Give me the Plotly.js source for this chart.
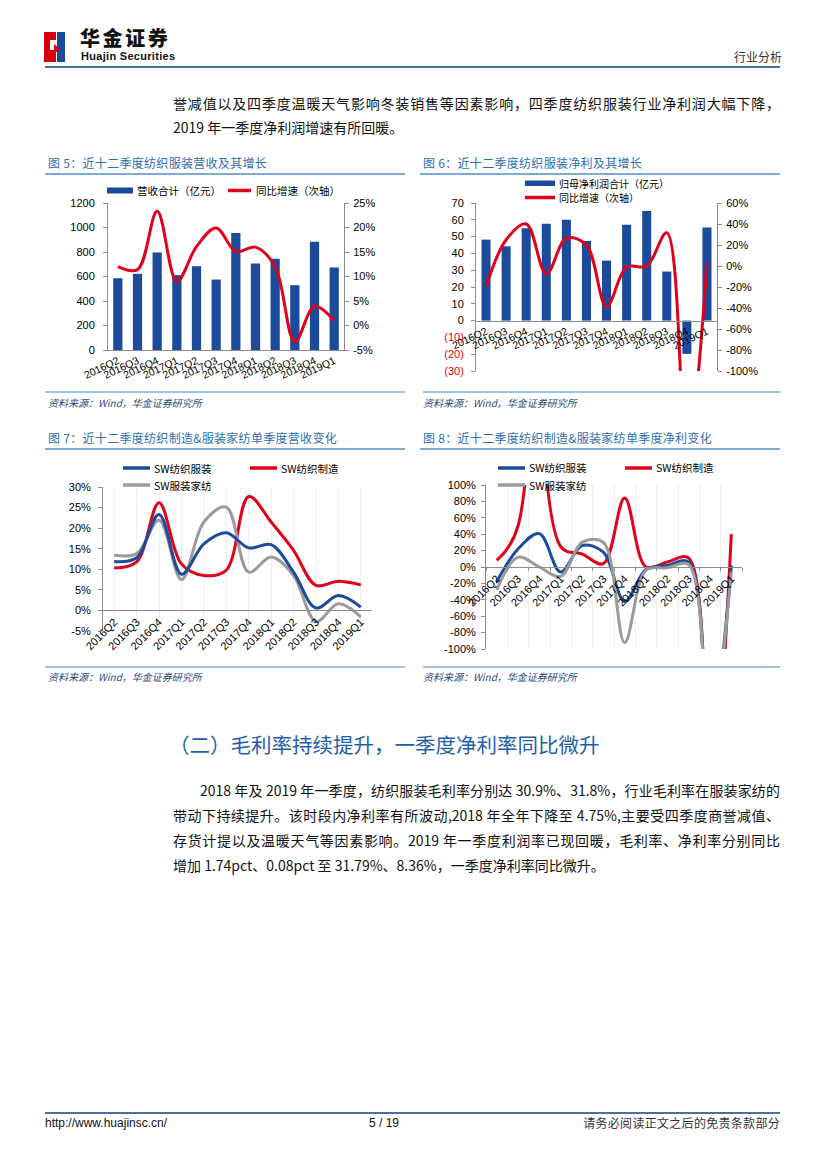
<!DOCTYPE html>
<html lang="zh-CN">
<head>
<meta charset="utf-8">
<title>行业分析 - 纺织服装</title>
<script src="https://cdn.plot.ly/plotly-3.0.1.min.js"></script>
<style>
html,body{margin:0;padding:0;background:#fff;}
#page{position:relative;width:827px;height:1169px;overflow:hidden;background:#fff;font-family:"Noto Sans CJK SC","Noto Sans",sans-serif;color:#111;}
.t{position:absolute;white-space:nowrap;line-height:20px;}
.jl{position:absolute;white-space:nowrap;line-height:20px;text-align:justify;text-align-last:justify;}
.body{font-size:14px;color:#111;}
.ftitle{font-size:12px;color:#2f6fb0;letter-spacing:0.3px;}
.uline{position:absolute;height:2px;background:#7eaad8;}
.srcline{position:absolute;height:1.5px;background:#9cc2e6;}
.src{font-size:10px;font-style:italic;color:#2b4a78;}
.chart{position:absolute;}
</style>
</head>
<body>
<div id="page">
  <!-- header -->
  <div style="position:absolute;left:44px;top:32px;width:12px;height:30px;background:#d7000f;"></div>
  <div style="position:absolute;left:50px;top:40px;width:6px;height:10px;background:#fff;"></div>
  <div style="position:absolute;left:57px;top:32px;width:8px;height:30px;background:#1b4a9a;"></div>
  <div style="position:absolute;left:54px;top:44px;width:0;height:0;border-top:5px solid transparent;border-bottom:5px solid transparent;border-left:6px solid #d7000f;"></div>
  <div class="t" style="left:80px;top:27px;font-size:20px;font-weight:900;letter-spacing:2.6px;color:#111;line-height:21px;">华金证券</div>
  <div class="t" style="left:81px;top:50px;font-size:11px;font-weight:bold;font-family:'Liberation Sans Narrow','Liberation Sans',Arial,sans-serif;color:#111;letter-spacing:0.3px;line-height:12px;">Huajin Securities</div>
  <div class="t" style="left:734px;top:47px;font-size:12px;color:#333;">行业分析</div>
  <div style="position:absolute;left:45px;top:66px;width:735px;height:2px;background:#44739f;"></div>

  <!-- top paragraph -->
  <div class="jl body" style="left:173px;top:93px;width:607px;">誉减值以及四季度温暖天气影响冬装销售等因素影响，四季度纺织服装行业净利润大幅下降，</div>
  <div class="t body" style="left:173px;top:117px;">2019 年一季度净利润增速有所回暖。</div>

  <!-- figure titles row 1 -->
  <div class="t ftitle" style="left:48px;top:153px;">图 5：近十二季度纺织服装营收及其增长</div>
  <div class="uline" style="left:45px;top:173px;width:360px;"></div>
  <div class="t ftitle" style="left:423px;top:153px;">图 6：近十二季度纺织服装净利及其增长</div>
  <div class="uline" style="left:420px;top:173px;width:360px;"></div>

  <div id="c5" class="chart"></div>
  <div id="c6" class="chart"></div>

  <div class="srcline" style="left:45px;top:391px;width:360px;"></div>
  <div class="srcline" style="left:423px;top:391px;width:357px;"></div>
  <div class="t src" style="left:48px;top:393px;">资料来源：Wind，华金证券研究所</div>
  <div class="t src" style="left:423px;top:393px;">资料来源：Wind，华金证券研究所</div>

  <!-- figure titles row 2 -->
  <div class="t ftitle" style="left:48px;top:428px;">图 7：近十二季度纺织制造&amp;服装家纺单季度营收变化</div>
  <div class="uline" style="left:45px;top:448px;width:360px;"></div>
  <div class="t ftitle" style="left:423px;top:428px;">图 8：近十二季度纺织制造&amp;服装家纺单季度净利变化</div>
  <div class="uline" style="left:420px;top:448px;width:360px;"></div>

  <div id="c7" class="chart"></div>
  <div id="c8" class="chart"></div>

  <div class="srcline" style="left:45px;top:666px;width:360px;"></div>
  <div class="srcline" style="left:423px;top:666px;width:357px;"></div>
  <div class="t src" style="left:48px;top:667px;">资料来源：Wind，华金证券研究所</div>
  <div class="t src" style="left:423px;top:667px;">资料来源：Wind，华金证券研究所</div>

  <!-- section heading -->
  <div class="t" style="left:169px;top:731px;font-size:20.5px;line-height:27px;color:#1f5ea8;">（二）毛利率持续提升，一季度净利率同比微升</div>

  <!-- paragraph -->
  <div class="jl body" style="left:200px;top:780px;width:580px;">2018 年及 2019 年一季度，纺织服装毛利率分别达 30.9%、31.8%，行业毛利率在服装家纺的</div>
  <div class="jl body" style="left:173px;top:805px;width:607px;">带动下持续提升。该时段内净利率有所波动,2018 年全年下降至 4.75%,主要受四季度商誉减值、</div>
  <div class="jl body" style="left:173px;top:830px;width:607px;">存货计提以及温暖天气等因素影响。2019 年一季度利润率已现回暖，毛利率、净利率分别同比</div>
  <div class="t body" style="left:173px;top:855px;">增加 1.74pct、0.08pct 至 31.79%、8.36%，一季度净利率同比微升。</div>

  <!-- footer -->
  <div style="position:absolute;left:45px;top:1112px;width:735px;height:2px;background:#44739f;"></div>
  <div class="t" style="left:45px;top:1113px;font-size:12px;font-family:'Liberation Sans',Arial,sans-serif;color:#111;">http://www.huajinsc.cn/</div>
  <div class="t" style="left:369px;top:1113px;font-size:12px;font-family:'Liberation Sans',Arial,sans-serif;color:#111;">5 / 19</div>
  <div class="t" style="right:47px;top:1113px;font-size:12px;color:#333;letter-spacing:0.3px;">请务必阅读正文之后的免责条款部分</div>
</div>

<script>
// ---------------- data ----------------
const quarters = ['2016Q2','2016Q3','2016Q4','2017Q1','2017Q2','2017Q3','2017Q4','2018Q1','2018Q2','2018Q3','2018Q4','2019Q1'];

// Fig 5: revenue (亿元) and YoY growth (%)
const revenueTotal = [586, 622, 796, 611, 684, 575, 955, 706, 745, 529, 884, 674];
const revenueYoY   = [12.0, 11.4, 23.3, 9.0, 16.1, 19.9, 15.1, 16.0, 12.0, -3.3, 3.9, 1.0];
const revLeftTicks  = [0, 200, 400, 600, 800, 1000, 1200];
const revRightTicks = [-5, 0, 5, 10, 15, 20, 25];

// Fig 6: net profit attributable (亿元) and YoY growth (%)
const netProfitTotal = [48.2, 44.2, 55.0, 57.7, 60.1, 47.4, 35.7, 57.1, 65.3, 29.2, -19.8, 55.4];
const netProfitYoY   = [-19.5, 25, 40, -7.5, 26.5, 20, -38.6, -1, 0, 31.6, -180, 2.7];
const npLeftTicks  = [-30, -20, -10, 0, 10, 20, 30, 40, 50, 60, 70];
const npRightTicks = [-100, -80, -60, -40, -20, 0, 20, 40, 60];

// Fig 7: single-quarter revenue growth (%)
const revTextileApparel = [11.9, 12.8, 23.3, 8.8, 16.2, 18.9, 15.2, 16.0, 9.3, 0.6, 3.6, 0.8];
const revTextileMfg     = [10.3, 11.8, 26.2, 11.3, 8.5, 9.8, 27.7, 21.5, 14.6, 6.1, 7.1, 6.2];
const revApparelHome    = [13.4, 13.8, 21.9, 7.5, 21.5, 25.1, 9.3, 13.0, 8.5, -2.7, 1.6, -1.6];
const rev7Ticks = [-5, 0, 5, 10, 15, 20, 25, 30];

// Fig 8: single-quarter net profit growth (%)
const npTextileApparel = [-18, 22, 40.7, -6, 26, 18, -42, -3, 2, 6, -200, 2];
const npTextileMfg     = [8, 50, 2000, 25, 16, 4, 84, 0, 6, 11, -300, 40];
const npApparelHome    = [-28, 12, 0, -11.4, 30, 30, -92, -4, -1, 3, -200, -6];
const np8Ticks = [-100, -80, -60, -40, -20, 0, 20, 40, 60, 80, 100];

const legend5 = ['营收合计（亿元）', '同比增速（次轴）'];
const legend6 = ['归母净利润合计（亿元）', '同比增速（次轴）'];
const swNames = ['SW纺织服装', 'SW纺织制造', 'SW服装家纺'];

// ---------------- styles ----------------
const BAR = '#1c4b9b', RED = '#e0001b', BLUE = '#1c4b9b', GRAY = '#9b9b9b', AX = '#8c8c8c';
const NUMF = 'Liberation Sans, Arial, sans-serif';
const CJKF = 'Noto Sans CJK SC, Liberation Sans, sans-serif';
const tickF = {family: NUMF, size: 11, color: '#000'};
const cfg = {staticPlot: true, displayModeBar: false, responsive: false};

function place(id, left, top, W, H, L, T, R, B) {
  const el = document.getElementById(id);
  el.style.left = left + 'px'; el.style.top = top + 'px';
  el.style.width = W + 'px'; el.style.height = H + 'px';
  const pw = W - L - R, ph = H - T - B;
  return {
    W: W, H: H,
    margin: {l: L, r: R, t: T, b: B, pad: 0},
    X: x => (x - left - L) / pw,
    Y: y => (top + T + ph - y) / ph
  };
}
function legText(g, an, tx, y, text, size) {
  an.push({xref: 'paper', yref: 'paper', x: g.X(tx), y: g.Y(y), xanchor: 'left', yanchor: 'middle',
           text: text, showarrow: false, borderpad: 0, font: {family: CJKF, size: size, color: '#000'}});
}
function legLine(g, sh, an, x0, x1, y, color, text, tx, size) {
  sh.push({type: 'line', xref: 'paper', yref: 'paper', x0: g.X(x0), x1: g.X(x1), y0: g.Y(y), y1: g.Y(y),
           line: {color: color, width: 3.5}});
  legText(g, an, tx, y, text, size);
}
function legRect(g, sh, an, x0, x1, y0, y1, color, text, tx, size) {
  sh.push({type: 'rect', xref: 'paper', yref: 'paper', x0: g.X(x0), x1: g.X(x1), y0: g.Y(y1), y1: g.Y(y0),
           fillcolor: color, line: {width: 0}});
  legText(g, an, tx, (y0 + y1) / 2, text, size);
}
function yAx(extra) {
  return Object.assign({showline: true, linecolor: AX, linewidth: 1, ticks: 'outside', ticklen: 4, tickcolor: AX,
    showgrid: false, zeroline: false, tickfont: tickF, automargin: false, fixedrange: true}, extra);
}
const pct = v => v + '%';
const paren = v => v < 0 ? '<span style="color:' + RED + '">(' + (-v) + ')</span>' : String(v);

// ---------------- Fig 5 ----------------
(function () {
  const g = place('c5', 45, 178, 360, 212, 63, 25, 61, 40);
  const sh = [], an = [];
  legRect(g, sh, an, 107, 133, 187.5, 193.5, BAR, legend5[0], 136, 10.5);
  legLine(g, sh, an, 228, 251, 190.5, RED, legend5[1], 255, 10.5);
  Plotly.newPlot('c5', [
    {type: 'bar', x: quarters, y: revenueTotal, marker: {color: BAR}, name: legend5[0]},
    {type: 'scatter', mode: 'lines', x: quarters, y: revenueYoY, yaxis: 'y2', name: legend5[1],
     line: {color: RED, width: 3, shape: 'spline', smoothing: 1}}
  ], {
    width: g.W, height: g.H, margin: g.margin, showlegend: false, bargap: 0.53,
    paper_bgcolor: 'rgba(0,0,0,0)', plot_bgcolor: 'rgba(0,0,0,0)', font: {family: NUMF},
    xaxis: {type: 'category', range: [-0.5, 11.5], tickangle: -25, showline: true, linecolor: AX, ticks: '',
            tickfont: {family: NUMF, size: 10.5, color: '#000'}, automargin: false, fixedrange: true},
    yaxis: yAx({range: [0, 1200], tickvals: revLeftTicks, ticktext: revLeftTicks.map(String), ticklabelstandoff: 6}),
    yaxis2: yAx({overlaying: 'y', side: 'right', anchor: 'x', range: [-5, 25], tickvals: revRightTicks,
                 ticktext: revRightTicks.map(pct), ticklabelstandoff: 2}),
    shapes: sh, annotations: an
  }, cfg);
})();

// ---------------- Fig 6 ----------------
(function () {
  const g = place('c6', 420, 170, 360, 220, 56, 33, 63, 19);
  const sh = [], an = [];
  legRect(g, sh, an, 525, 555, 180.5, 186, BAR, legend6[0], 558, 10);
  legLine(g, sh, an, 525, 555, 197.5, RED, legend6[1], 558, 10);
  Plotly.newPlot('c6', [
    {type: 'bar', x: quarters, y: netProfitTotal, marker: {color: BAR}, name: legend6[0]},
    {type: 'scatter', mode: 'lines', x: quarters, y: netProfitYoY, yaxis: 'y2', name: legend6[1],
     line: {color: RED, width: 3, shape: 'spline', smoothing: 1}}
  ], {
    width: g.W, height: g.H, margin: g.margin, showlegend: false, bargap: 0.55,
    paper_bgcolor: 'rgba(0,0,0,0)', plot_bgcolor: 'rgba(0,0,0,0)', font: {family: NUMF},
    xaxis: {type: 'category', range: [-0.5, 11.5], tickangle: -25, showline: true, linecolor: AX, ticks: '',
            anchor: 'free', position: 0.3,
            tickfont: {family: NUMF, size: 10.5, color: '#000'}, automargin: false, fixedrange: true},
    yaxis: yAx({range: [-30, 70], tickvals: npLeftTicks, ticktext: npLeftTicks.map(paren), ticklabelstandoff: 5}),
    yaxis2: yAx({overlaying: 'y', side: 'right', anchor: 'x', range: [-100, 60], tickvals: npRightTicks,
                 ticktext: npRightTicks.map(pct), ticklabelstandoff: 2}),
    shapes: sh, annotations: an
  }, cfg);
})();

// ---------------- Fig 7 ----------------
(function () {
  const g = place('c7', 45, 452, 360, 215, 58, 35, 33, 36);
  const sh = [], an = [];
  legLine(g, sh, an, 123, 150, 468, BLUE, swNames[0], 153, 10.5);
  legLine(g, sh, an, 250, 277, 468, RED, swNames[1], 280, 10.5);
  legLine(g, sh, an, 123, 150, 485, GRAY, swNames[2], 153, 10.5);
  const ln = c => ({color: c, width: 3, shape: 'spline', smoothing: 1});
  Plotly.newPlot('c7', [
    {type: 'scatter', mode: 'lines', x: quarters, y: revTextileMfg, name: swNames[1], line: ln(RED)},
    {type: 'scatter', mode: 'lines', x: quarters, y: revApparelHome, name: swNames[2], line: ln(GRAY)},
    {type: 'scatter', mode: 'lines', x: quarters, y: revTextileApparel, name: swNames[0], line: ln(BLUE)}
  ], {
    width: g.W, height: g.H, margin: g.margin, showlegend: false,
    paper_bgcolor: 'rgba(0,0,0,0)', plot_bgcolor: 'rgba(0,0,0,0)', font: {family: NUMF},
    xaxis: {type: 'category', range: [-0.5, 11.5], tickangle: -45, showline: true, linecolor: AX,
            ticks: '', anchor: 'free', position: 5 / 35,
            tickfont: tickF, automargin: false, fixedrange: true},
    yaxis: yAx({range: [-5, 30], tickvals: rev7Ticks, ticktext: rev7Ticks.map(pct), ticklabelstandoff: 5}),
    shapes: sh, annotations: an
  }, cfg);
})();

// ---------------- Fig 8 ----------------
(function () {
  const g = place('c8', 420, 452, 360, 215, 66, 33, 38, 18);
  const sh = [], an = [];
  legLine(g, sh, an, 498, 525, 468, BLUE, swNames[0], 528, 10.5);
  legLine(g, sh, an, 625, 652, 468, RED, swNames[1], 655, 10.5);
  legLine(g, sh, an, 498, 525, 485, GRAY, swNames[2], 528, 10.5);
  const ln = c => ({color: c, width: 3, shape: 'spline', smoothing: 1});
  Plotly.newPlot('c8', [
    {type: 'scatter', mode: 'lines', x: quarters, y: npTextileMfg, name: swNames[1], line: ln(RED)},
    {type: 'scatter', mode: 'lines', x: quarters, y: npTextileApparel, name: swNames[0], line: ln(BLUE)},
    {type: 'scatter', mode: 'lines', x: quarters, y: npApparelHome, name: swNames[2], line: ln(GRAY)}
  ], {
    width: g.W, height: g.H, margin: g.margin, showlegend: false,
    paper_bgcolor: 'rgba(0,0,0,0)', plot_bgcolor: 'rgba(0,0,0,0)', font: {family: NUMF},
    xaxis: {type: 'category', range: [-0.5, 11.5], tickangle: -45, showline: true, linecolor: AX,
            ticks: 'outside', ticklen: 3, tickcolor: AX, tickson: 'boundaries', anchor: 'free', position: 0.5,
            tickfont: tickF, automargin: false, fixedrange: true},
    yaxis: yAx({range: [-100, 100], tickvals: np8Ticks, ticktext: np8Ticks.map(pct), ticklabelstandoff: 3}),
    shapes: sh, annotations: an
  }, cfg);
})();
</script>
</body>
</html>
